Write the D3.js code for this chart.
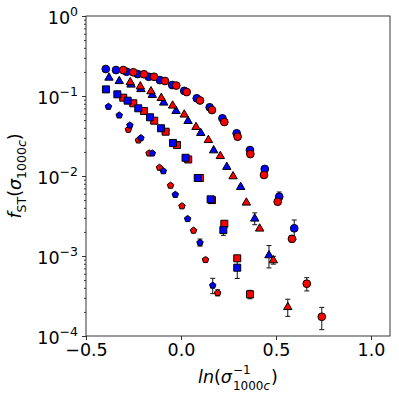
<!DOCTYPE html>
<html>
<head>
<meta charset="utf-8">
<script src="https://cdn.jsdelivr.net/npm/d3@7"></script>
<style>
  body { margin: 0; background: #fff; }
  text { font-family: "DejaVu Sans", sans-serif; }
</style>
</head>
<body>
<div id="chart"></div>
<script>
// data (x = ln(1/sigma), y = f_ST)
var circBlueX = [-0.396,-0.342,-0.286,-0.228,-0.170,-0.111,-0.046,0.017,0.083,0.151,0.218,0.293,0.363,0.441,0.517,0.596];
var circBlueY = [0.2175,0.211,0.201,0.188,0.174,0.158,0.137,0.116,0.0936,0.0722,0.0526,0.0342,0.0211,0.01224,0.00551,0.00222];
var circBlueErr = [0,0,0,0,0,0,0,0,0,0,0,0,0,0,0.0008,0.0006];

var circRedX = [-0.304,-0.251,-0.195,-0.142,-0.084,-0.025,0.030,0.100,0.163,0.228,0.298,0.365,0.437,0.509,0.584,0.662,0.741];
var circRedY = [0.211,0.198,0.187,0.174,0.154,0.135,0.112,0.0879,0.0668,0.0473,0.0310,0.0188,0.0103,0.00477,0.00164,0.000451,0.000174];
var circRedErr = [0,0,0,0,0,0,0,0,0,0,0,0,0,0.0003,0.00015,0.000085,0.000054];

var triBlueX = [-0.379,-0.325,-0.263,-0.211,-0.151,-0.091,-0.026,0.037,0.104,0.172,0.241,0.314,0.388,0.463];
var triBlueY = [0.171,0.155,0.140,0.123,0.104,0.0834,0.0655,0.0491,0.0348,0.0211,0.0131,0.00735,0.00296,0.00103];
var triBlueErr = [0,0,0,0,0,0,0,0,0,0,0,0.0003,0.0005,0.00032];

var triRedX = [-0.267,-0.214,-0.158,-0.104,-0.044,0.017,0.079,0.144,0.207,0.274,0.344,0.414,0.486,0.562];
var triRedY = [0.150,0.133,0.1155,0.0953,0.0765,0.0591,0.0413,0.0284,0.0179,0.0100,0.00469,0.00222,0.000891,0.000232];
var triRedErr = [0,0,0,0,0,0,0,0,0,0,0,0,0.0001,0.000056];

var sqBlueX = [-0.395,-0.335,-0.281,-0.225,-0.163,-0.105,-0.042,0.024,0.088,0.156,0.223,0.296];
var sqBlueY = [0.121,0.105,0.0874,0.0702,0.0542,0.0395,0.0259,0.0169,0.00944,0.00511,0.00211,0.000714];
var sqBlueErr = [0,0,0,0,0,0,0,0,0,0,0.0003,0.00019];

var sqRedX = [-0.304,-0.251,-0.195,-0.141,-0.081,-0.021,0.038,0.100,0.163,0.228,0.296,0.363];
var sqRedY = [0.0953,0.0811,0.0649,0.0491,0.0358,0.0244,0.0161,0.00944,0.0050,0.00253,0.000936,0.000332];
var sqRedErr = [0,0,0,0,0,0,0,0,0,0,0.00006,0.00004];

var pentBlueX = [-0.382,-0.325,-0.269,-0.211,-0.151,-0.093,-0.030,0.035,0.100,0.167];
var pentBlueY = [0.0743,0.0579,0.0434,0.0301,0.0194,0.01164,0.0059,0.00294,0.00148,0.000432];
var pentBlueErr = [0,0,0,0,0,0,0,0,0.00015,0.000094];

var pentRedX = [-0.277,-0.224,-0.168,-0.113,-0.055,0.005,0.066,0.129,0.193];
var pentRedY = [0.0384,0.0282,0.0194,0.01285,0.00767,0.00424,0.0021,0.000904,0.000348];
var pentRedErr = [0,0,0,0,0,0,0,0.00004,0.00003];

var xTicks = [-0.5,0.0,0.5,1.0];
var yTickExps = [0,-1,-2,-3,-4];

var svgWidth = 399, svgHeight = 399;
var margin = {left:86,right:9,top:16,bottom:63};
var width = svgWidth - margin.left - margin.right;
var height = svgHeight - margin.top - margin.bottom;

var svg = d3.select('#chart').append('svg')
            .attr('width',svgWidth)
            .attr('height',svgHeight);

var g = svg.append('g')
           .attr('transform','translate('+margin.left+','+margin.top+')');

var xScale = d3.scaleLinear().domain([-0.5,1.1]).range([0,width]);
var yScale = d3.scaleLog().domain([1e-4,1]).range([height,0]);

// series: drawn in this order
var series = [
  {x:circBlueX, y:circBlueY, e:circBlueErr, shape:'circle', color:'#0000ff'},
  {x:circRedX, y:circRedY, e:circRedErr, shape:'circle', color:'#ff0000'},
  {x:triBlueX, y:triBlueY, e:triBlueErr, shape:'triangle', color:'#0000ff'},
  {x:triRedX, y:triRedY, e:triRedErr, shape:'triangle', color:'#ff0000'},
  {x:sqRedX, y:sqRedY, e:sqRedErr, shape:'square', color:'#ff0000'},
  {x:sqBlueX, y:sqBlueY, e:sqBlueErr, shape:'square', color:'#0000ff'},
  {x:pentRedX, y:pentRedY, e:pentRedErr, shape:'pentagon', color:'#ff0000'},
  {x:pentBlueX, y:pentBlueY, e:pentBlueErr, shape:'pentagon', color:'#0000ff'}
];

function markerPath(shape){
  if(shape=='circle') return d3.symbol(d3.symbolCircle, 47)();
  if(shape=='square') return 'M-3.5,-3.5H3.5V3.5H-3.5Z';
  if(shape=='triangle') return 'M0,-4.5L4.2,2.8L-4.2,2.8Z';
  // pentagon
  var pts = d3.range(5).map(function(i){
    var a = -Math.PI/2 + i*2*Math.PI/5;
    return [3.4*Math.cos(a), 3.4*Math.sin(a)+0.3];
  });
  return 'M'+pts.join('L')+'Z';
}

// error bars first
series.forEach(function(s){
  var pts = s.x.map(function(d,i){ return {x:d, y:s.y[i], e:s.e[i]}; })
               .filter(function(d){ return d.e>0; });
  var eb = g.append('g').selectAll('g').data(pts).enter().append('g')
            .attr('stroke','#111').attr('stroke-width',1);
  eb.append('line')
    .attr('x1',function(d){ return xScale(d.x); })
    .attr('x2',function(d){ return xScale(d.x); })
    .attr('y1',function(d){ return yScale(d.y+d.e); })
    .attr('y2',function(d){ return Math.min(height, yScale(Math.max(d.y-d.e,1e-6))); });
  eb.append('line')
    .attr('x1',function(d){ return xScale(d.x)-2.5; })
    .attr('x2',function(d){ return xScale(d.x)+2.5; })
    .attr('y1',function(d){ return yScale(d.y+d.e); })
    .attr('y2',function(d){ return yScale(d.y+d.e); });
  eb.filter(function(d){ return yScale(d.y-d.e) < height; })
    .append('line')
    .attr('x1',function(d){ return xScale(d.x)-2.5; })
    .attr('x2',function(d){ return xScale(d.x)+2.5; })
    .attr('y1',function(d){ return yScale(d.y-d.e); })
    .attr('y2',function(d){ return yScale(d.y-d.e); });
});

series.forEach(function(s){
  g.append('g').selectAll('path').data(s.x).enter().append('path')
   .attr('d',markerPath(s.shape))
   .attr('transform',function(d,i){ return 'translate('+xScale(d)+','+yScale(s.y[i])+')'; })
   .attr('fill',s.color)
   .attr('stroke','#000')
   .attr('stroke-width',1);
});

// axes
var fs = 17.5;
var xAxis = d3.axisBottom(xScale).tickValues(xTicks).tickFormat(d3.format('.1f'))
              .tickSize(4).tickPadding(4);
var xg = g.append('g').attr('transform','translate(0,'+height+')').call(xAxis);
xg.select('.domain').remove();
xg.selectAll('text').style('font-size',fs+'px').attr('fill','#000');

var minorY = [];
yTickExps.forEach(function(e){
  if(e>-4) for(var k=2;k<10;k++) minorY.push(k*Math.pow(10,e-1));
});
var yMinor = d3.axisLeft(yScale).tickValues(minorY).tickSize(2).tickFormat('');
var ymg = g.append('g').call(yMinor);
ymg.select('.domain').remove();

var yAxis = d3.axisLeft(yScale).tickValues(yTickExps.map(function(e){ return Math.pow(10,e); }))
              .tickSize(4).tickFormat('');
var yg = g.append('g').call(yAxis);
yg.select('.domain').remove();

yg.selectAll('.tick').each(function(d){
  var e = Math.round(Math.log10(d));
  var t = d3.select(this).append('text')
            .attr('x',-8).attr('y',7.5)
            .attr('text-anchor','end')
            .attr('fill','#000')
            .style('font-size',fs+'px');
  t.append('tspan').text('10');
  t.append('tspan').attr('dy',-8).style('font-size','12.5px')
   .text(e<0 ? '\u2212'+(-e) : String(e));
});

g.selectAll('.tick line').attr('stroke','#000').attr('stroke-width',0.8);

g.append('rect').attr('width',width).attr('height',height)
 .attr('fill','none').attr('stroke','#222').attr('stroke-width',0.9);

// x label: ln(sigma^{-1}_{1000c})
var xl = svg.append('g');
var t1 = xl.append('text').attr('x',0).attr('y',0).style('font-size',fs+'px')
           .style('font-style','italic').text('ln(\u03c3');
var w1 = t1.node().getComputedTextLength();
t1.text('');
t1.append('tspan').text('ln');
t1.append('tspan').style('font-style','normal').text('(');
t1.append('tspan').text('\u03c3');
var sup = xl.append('text').attr('x',w1+1).attr('y',-9.5).style('font-size','12px').text('\u22121');
var sub = xl.append('text').attr('x',w1+1).attr('y',7).style('font-size','12px');
sub.append('tspan').text('1000');
sub.append('tspan').style('font-style','italic').text('c');
var w2 = Math.max(sup.node().getComputedTextLength(), sub.node().getComputedTextLength());
var t3 = xl.append('text').attr('x',w1+w2+2).attr('y',0).style('font-size',fs+'px').text(')');
var total = w1+w2+2+t3.node().getComputedTextLength();
xl.attr('transform','translate('+(margin.left+width/2-total/2)+',383)');

// y label: f_ST(sigma_1000c)
var yl = svg.append('text')
            .attr('transform','translate(21,'+(margin.top+height/2)+') rotate(-90)')
            .attr('text-anchor','middle')
            .style('font-size',fs+'px');
yl.append('tspan').style('font-style','italic').text('f');
yl.append('tspan').attr('dy',4.5).style('font-size','12.5px').text('ST');
yl.append('tspan').attr('dy',-4.5).text('(');
yl.append('tspan').style('font-style','italic').text('\u03c3');
yl.append('tspan').attr('dy',4.5).style('font-size','12.5px').text('1000');
yl.append('tspan').style('font-size','12.5px').style('font-style','italic').text('c');
yl.append('tspan').attr('dy',-4.5).text(')');
</script>
</body>
</html>
